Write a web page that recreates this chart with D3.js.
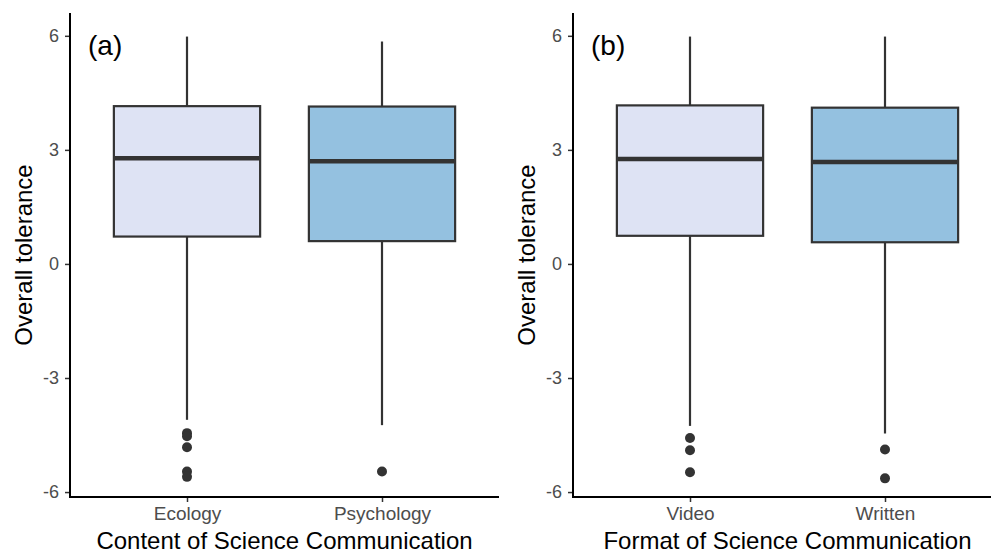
<!DOCTYPE html>
<html>
<head>
<meta charset="utf-8">
<script src="https://cdn.jsdelivr.net/npm/d3@7"></script>
<style>
  body { margin: 0; background: #fff; }
  text { font-family: "Liberation Sans", Arial, sans-serif; }
</style>
</head>
<body>
<div id="chart"></div>
<script>
// Data (box statistics per group)
const contentGroups = ["Ecology", "Psychology"];
const formatGroups = ["Video", "Written"];

const contentLow = [-4.1, -4.24];
const contentQ1 = [0.72, 0.6];
const contentMedian = [2.78, 2.7];
const contentQ3 = [4.15, 4.14];
const contentHigh = [5.98, 5.85];
const contentOutliers = [[-4.45, -4.53, -4.82, -5.46, -5.6], [-5.46]];

const formatLow = [-4.26, -4.46];
const formatQ1 = [0.74, 0.57];
const formatMedian = [2.76, 2.68];
const formatQ3 = [4.17, 4.11];
const formatHigh = [5.98, 5.98];
const formatOutliers = [[-4.58, -4.9, -5.48], [-4.88, -5.64]];

const yTicks = [-6, -3, 0, 3, 6];
const fills = ["#dee3f4", "#94c1e0"];

const width = 991;
const height = 554;
const plotTop = 13;
const plotBottom = 497;

const svg = d3.select("#chart")
  .append("svg")
  .attr("width", width)
  .attr("height", height);

svg.append("rect").attr("width", width).attr("height", height).attr("fill", "#fff");

const y = d3.scaleLinear().domain([-6.13, 6.6]).range([plotBottom, plotTop]);

const buildStats = (groups, lo, q1, med, q3, hi, outs) =>
  groups.map((g, i) => ({ group: g, lo: lo[i], q1: q1[i], med: med[i], q3: q3[i], hi: hi[i], outliers: outs[i], fill: fills[i] }));

function drawPanel(left, right, stats, tag, xTitle) {
  const g = svg.append("g");
  const x = d3.scalePoint()
    .domain(stats.map(d => d.group))
    .range([left, right])
    .padding(0.6);
  const boxW = x.step() * 0.75;

  // whiskers
  g.selectAll("line.whisker-up")
    .data(stats)
    .enter()
    .append("line")
    .attr("class", "whisker-up")
    .attr("x1", d => x(d.group)).attr("x2", d => x(d.group))
    .attr("y1", d => y(d.q3)).attr("y2", d => y(d.hi))
    .attr("stroke", "#333").attr("stroke-width", 2.2);
  g.selectAll("line.whisker-down")
    .data(stats)
    .enter()
    .append("line")
    .attr("class", "whisker-down")
    .attr("x1", d => x(d.group)).attr("x2", d => x(d.group))
    .attr("y1", d => y(d.q1)).attr("y2", d => y(d.lo))
    .attr("stroke", "#333").attr("stroke-width", 2.2);

  // boxes
  g.selectAll("rect.box")
    .data(stats)
    .enter()
    .append("rect")
    .attr("class", "box")
    .attr("x", d => x(d.group) - boxW / 2)
    .attr("y", d => y(d.q3))
    .attr("width", boxW)
    .attr("height", d => y(d.q1) - y(d.q3))
    .attr("fill", d => d.fill)
    .attr("stroke", "#333")
    .attr("stroke-width", 2.2);

  // medians
  g.selectAll("line.median")
    .data(stats)
    .enter()
    .append("line")
    .attr("class", "median")
    .attr("x1", d => x(d.group) - boxW / 2 + 1)
    .attr("x2", d => x(d.group) + boxW / 2 - 1)
    .attr("y1", d => y(d.med)).attr("y2", d => y(d.med))
    .attr("stroke", "#333").attr("stroke-width", 4.5);

  // outliers
  const pts = stats.flatMap(d => d.outliers.map(v => ({ group: d.group, v: v })));
  g.selectAll("circle")
    .data(pts)
    .enter()
    .append("circle")
    .attr("cx", d => x(d.group))
    .attr("cy", d => y(d.v))
    .attr("r", 5)
    .attr("fill", "#333");

  // y axis (plain hyphen for negatives, as in the original)
  const yAxis = g.append("g")
    .attr("transform", `translate(${left},0)`)
    .call(d3.axisLeft(y).tickValues(yTicks).tickSize(5).tickPadding(6).tickFormat(d => String(d)));
  yAxis.select(".domain").remove();
  yAxis.selectAll(".tick line").attr("stroke", "#333").attr("stroke-width", 1.5);
  yAxis.selectAll(".tick text").attr("fill", "#4d4d4d").style("font-size", "18px")
    .style("font-family", "Liberation Sans, Arial, sans-serif");

  // x axis
  const xAxis = g.append("g")
    .attr("transform", `translate(0,${plotBottom})`)
    .call(d3.axisBottom(x).tickSize(5).tickPadding(5));
  xAxis.select(".domain").remove();
  xAxis.selectAll(".tick line").attr("stroke", "#333").attr("stroke-width", 1.5);
  xAxis.selectAll(".tick text").attr("fill", "#4d4d4d").style("font-size", "19px")
    .style("font-family", "Liberation Sans, Arial, sans-serif");

  // axis lines
  g.append("line").attr("x1", left).attr("x2", left).attr("y1", plotTop).attr("y2", plotBottom + 1)
    .attr("stroke", "#000").attr("stroke-width", 2);
  g.append("line").attr("x1", left - 1).attr("x2", right).attr("y1", plotBottom).attr("y2", plotBottom)
    .attr("stroke", "#000").attr("stroke-width", 2);

  // titles
  g.append("text")
    .attr("transform", `translate(${left - 38},${(plotTop + plotBottom) / 2}) rotate(-90)`)
    .attr("text-anchor", "middle")
    .style("font-size", "24px")
    .attr("fill", "#000")
    .text("Overall tolerance");
  g.append("text")
    .attr("x", (left + right) / 2)
    .attr("y", 549)
    .attr("text-anchor", "middle")
    .style("font-size", "24px")
    .attr("fill", "#000")
    .text(xTitle);
  g.append("text")
    .attr("x", left + 18)
    .attr("y", 55)
    .style("font-size", "28px")
    .attr("fill", "#000")
    .text(tag);
}

drawPanel(70, 499, buildStats(contentGroups, contentLow, contentQ1, contentMedian, contentQ3, contentHigh, contentOutliers),
  "(a)", "Content of Science Communication");
drawPanel(573, 1002, buildStats(formatGroups, formatLow, formatQ1, formatMedian, formatQ3, formatHigh, formatOutliers),
  "(b)", "Format of Science Communication");
</script>
</body>
</html>
